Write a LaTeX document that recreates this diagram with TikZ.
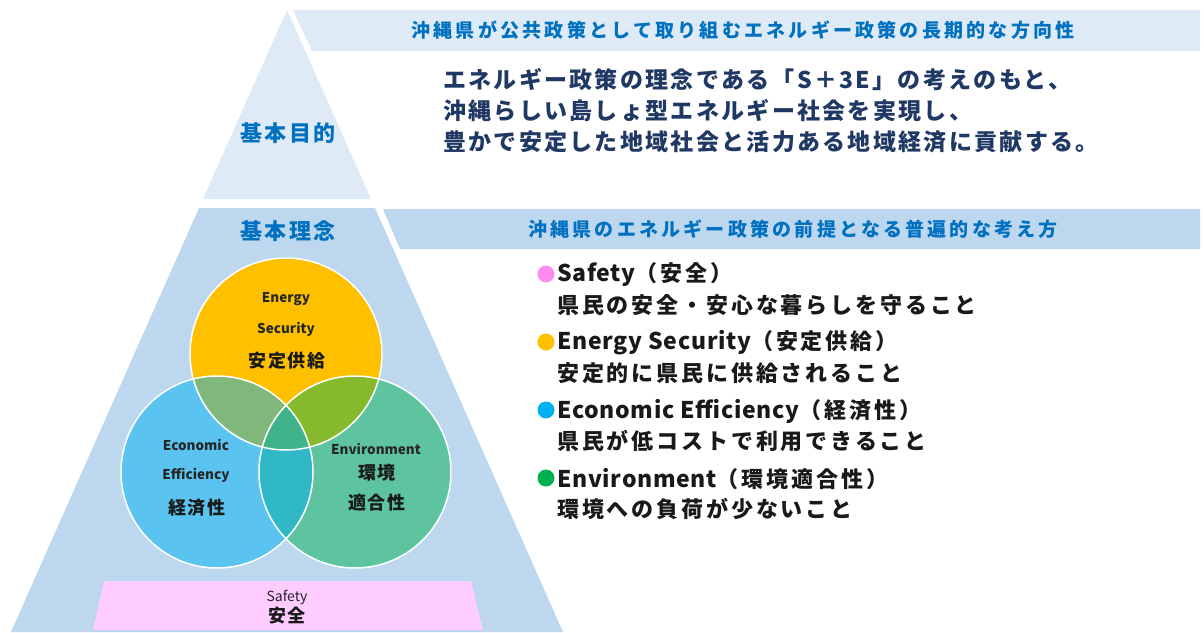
\documentclass[tikz,border=0pt]{standalone}
\usepackage{fontspec}
\newfontfamily\jp{Noto Sans CJK JP}
\newfontfamily\jpH{Noto Sans CJK JP}[LetterSpace=17]
\newfontfamily\jpM{Noto Sans CJK JP}[LetterSpace=10]
\newfontfamily\jpP{Noto Sans CJK JP}[LetterSpace=12]
\newfontfamily\jpB{Noto Sans CJK JP}[LetterSpace=13]
\newfontfamily\jpL{Noto Sans CJK JP}[LetterSpace=3]
\newfontfamily\jpT{Noto Sans CJK JP}[LetterSpace=8]
\newcommand\lat[1]{{\jpL\bfseries\fontsize{23}{23}\selectfont #1}}
\definecolor{topfill}{HTML}{DEEBF7}
\definecolor{botfill}{HTML}{BDD7EE}
\definecolor{hblue}{HTML}{0070C0}
\definecolor{navy}{HTML}{203864}
\definecolor{corange}{HTML}{FFC000}
\definecolor{cblue}{HTML}{5BC3EF}
\definecolor{cgreen}{HTML}{5EC4A0}
\definecolor{ob}{HTML}{80B77A}
\definecolor{og}{HTML}{84BA2B}
\definecolor{bg}{HTML}{30B8C6}
\definecolor{obg}{HTML}{40B38A}
\definecolor{spink}{HTML}{FFCCFF}
\definecolor{dpink}{HTML}{FF8CF0}
\definecolor{dorange}{HTML}{FFC000}
\definecolor{dblue}{HTML}{00B0F0}
\definecolor{dgreen}{HTML}{00B050}
\tikzset{
  hdr/.style={font=\jpH\bfseries\fontsize{19}{19}\selectfont, text=hblue, inner sep=0pt},
  pyr/.style={font=\jpP\bfseries\fontsize{22}{22}\selectfont, text=hblue, inner sep=0pt},
  mainline/.style={font=\jpM\bfseries\fontsize{23}{23}\selectfont, text=navy, anchor=west, inner sep=0pt},
  bul/.style={font=\jpB\bfseries\fontsize{22}{22}\selectfont, text=black!90, anchor=west, inner sep=0pt},
  vsmall/.style={font=\jp\bfseries\fontsize{13.5}{13.5}\selectfont, text=black!85, inner sep=0pt},
  vbig/.style={font=\jpT\bfseries\fontsize{18}{18}\selectfont, text=black!90, inner sep=0pt},
  dot/.style={circle, minimum size=17pt, inner sep=0pt},
  ring/.style={draw=white, line width=1.5pt},
}
\begin{document}
\begin{tikzpicture}[x=1pt,y=-1pt]
\useasboundingbox (0,0) rectangle (1204,632);
% pyramid parts
\fill[topfill] (287,10) -- (203,199) -- (371,199) -- cycle;
\fill[botfill] (199,208) -- (375,208) -- (563,632) -- (11,632) -- cycle;
% header bars
\fill[topfill] (293,10) -- (1200,10) -- (1200,51) -- (312,51) -- cycle;
\fill[botfill] (383,209) -- (1200,209) -- (1200,249) -- (400,249) -- cycle;
\node[hdr] (h1) at (743,30) {沖縄県が公共政策として取り組むエネルギー政策の長期的な方向性};
\node[hdr] (h2) at (793,229) {沖縄県のエネルギー政策の前提となる普遍的な考え方};
\node[pyr] (goal) at (288,133) {基本目的};
\node[pyr] (idea) at (288,231) {基本理念};
% main statement
\node[mainline] (m1) at (443,80) {エネルギー政策の理念である「S＋3E」の考えのもと、};
\node[mainline] (m2) at (443,111) {沖縄らしい島しょ型エネルギー社会を実現し、};
\node[mainline] (m3) at (443,142) {豊かで安定した地域社会と活力ある地域経済に貢献する。};
% venn
\coordinate (cE) at (286,354);
\coordinate (cB) at (217,472);
\coordinate (cG) at (355,472);
\fill[corange] (cE) circle (96);
\fill[cblue] (cB) circle (96);
\fill[cgreen] (cG) circle (96);
\begin{scope}\clip (cE) circle (96); \fill[ob] (cB) circle (96); \end{scope}
\begin{scope}\clip (cE) circle (96); \fill[og] (cG) circle (96); \end{scope}
\begin{scope}\clip (cB) circle (96); \fill[bg] (cG) circle (96); \end{scope}
\begin{scope}\clip (cE) circle (96); \clip (cB) circle (96); \fill[obg] (cG) circle (96); \end{scope}
\draw[ring] (cE) circle (96);
\draw[ring] (cB) circle (96);
\draw[ring] (cG) circle (96);
\node[vsmall] (es1) at (286,299) {Energy};
\node[vsmall] (es2) at (286,329) {Security};
\node[vbig] (es3) at (287,361) {安定供給};
\node[vsmall] (ee1) at (196,445) {Economic};
\node[vsmall] (ee2) at (196,475) {Efficiency};
\node[vbig] (ee3) at (197,508) {経済性};
\node[vsmall] (en1) at (376,449) {Environment};
\node[vbig] (en2) at (377,473) {環境};
\node[vbig] (en3) at (377,503) {適合性};
% safety bar
\fill[spink] (104,581) -- (471,581) -- (483,630) -- (93,630) -- cycle;
\node[font=\jp\fontsize{14}{14}\selectfont, text=black!85, inner sep=0pt] (sf1) at (287,597) {Safety};
\node[vbig] (sf2) at (287,616) {安全};
% bullets
\node[dot, fill=dpink] (d1) at (546,274) {};
\node[dot, fill=dorange] (d2) at (546,342) {};
\node[dot, fill=dblue] (d3) at (546,410) {};
\node[dot, fill=dgreen] (d4) at (546,478) {};
\node[bul] (b1) at (557,275) {\lat{Safety}（安全）};
\node[bul] (b1b) at (557,305) {県民の安全・安心な暮らしを守ること};
\node[bul] (b2) at (557,343) {\lat{Energy Security}（安定供給）};
\node[bul] (b2b) at (557,373) {安定的に県民に供給されること};
\node[bul] (b3) at (557,411) {\lat{Economic Efficiency}（経済性）};
\node[bul] (b3b) at (557,441) {県民が低コストで利用できること};
\node[bul] (b4) at (557,479) {\lat{Environment}（環境適合性）};
\node[bul] (b4b) at (557,509) {環境への負荷が少ないこと};
\end{tikzpicture}
\end{document}
